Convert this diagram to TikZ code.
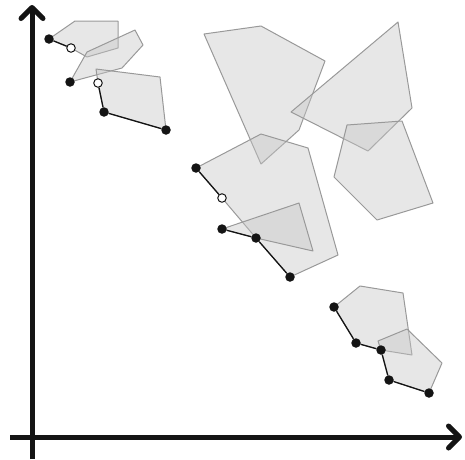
\documentclass[tikz,border=0pt]{standalone}
\usetikzlibrary{arrows.meta}
\pgfdeclarelayer{bg}
\pgfsetlayers{bg,main}
\begin{document}
\begin{tikzpicture}[x=1pt,y=-1pt,
  poly/.style={draw=gray!80, line width=1pt, fill=gray!45, fill opacity=0.42, line join=round},
  bdot/.style={circle, fill=black!92, inner sep=0pt, minimum size=9.5pt},
  odot/.style={circle, draw=black!92, fill=white, line width=1pt, inner sep=0pt, minimum size=8.5pt},
  link/.style={draw=black!92, line width=1.3pt},
  axis/.style={line width=5pt, draw=black!92, -{Straight Barb[length=11pt,width=22pt,line cap=round,line join=round]}}]
\useasboundingbox (0,0) rectangle (465,459);
% axes
\coordinate (ox1) at (32,459);
\coordinate (oy1) at (32,5);
\coordinate (ox2) at (10,437);
\coordinate (oy2) at (462,437);
\draw[axis] (ox1) -- (oy1);
\draw[axis] (ox2) -- (oy2);
% dots
\node[bdot] (a1) at (49,39) {};
\node[odot] (a2) at (71,48) {};
\node[bdot] (b1) at (70,82) {};
\node[odot] (b2) at (98,83) {};
\node[bdot] (c1) at (104,112) {};
\node[bdot] (c2) at (166,130) {};
\node[bdot] (g1) at (196,168) {};
\node[odot] (g2) at (222,198) {};
\node[bdot] (h1) at (222,229) {};
\node[bdot] (h2) at (256,238) {};
\node[bdot] (h3) at (290,277) {};
\node[bdot] (i1) at (334,307) {};
\node[bdot] (i2) at (356,343) {};
\node[bdot] (i3) at (381,350) {};
\node[bdot] (j1) at (389,380) {};
\node[bdot] (j2) at (429,393) {};
\begin{pgfonlayer}{bg}
\draw[poly] (49,39) -- (75,21) -- (118,21) -- (118,48) -- (87,57) -- (71,48) -- cycle;
\draw[poly] (70,82) -- (87,52) -- (135,30) -- (143,45) -- (122,68) -- cycle;
\draw[poly] (98,83) -- (96,69) -- (160,77) -- (166,130) -- (104,112) -- cycle;
\draw[poly] (204,34) -- (261,26) -- (325,61) -- (299,130) -- (261,164) -- cycle;
\draw[poly] (398,22) -- (412,108) -- (368,151) -- (291,112) -- cycle;
\draw[poly] (347,125) -- (402,121) -- (433,203) -- (377,220) -- (334,177) -- cycle;
\draw[poly] (196,168) -- (261,134) -- (308,148) -- (338,255) -- (290,277) -- (256,238) -- (222,198) -- cycle;
\draw[poly] (222,229) -- (299,203) -- (313,251) -- (256,238) -- cycle;
\draw[poly] (334,307) -- (360,286) -- (403,293) -- (412,355) -- (381,350) -- (356,343) -- cycle;
\draw[poly] (378,341) -- (407,329) -- (442,363) -- (429,393) -- (389,380) -- (381,350) -- cycle;
% links
\draw[link] (a1) -- (a2);
\draw[link] (b2) -- (c1) -- (c2);
\draw[link] (g1) -- (g2);
\draw[link] (h1) -- (h2) -- (h3);
\draw[link] (i1) -- (i2) -- (i3) -- (j1) -- (j2);
\end{pgfonlayer}
\end{tikzpicture}
\end{document}
